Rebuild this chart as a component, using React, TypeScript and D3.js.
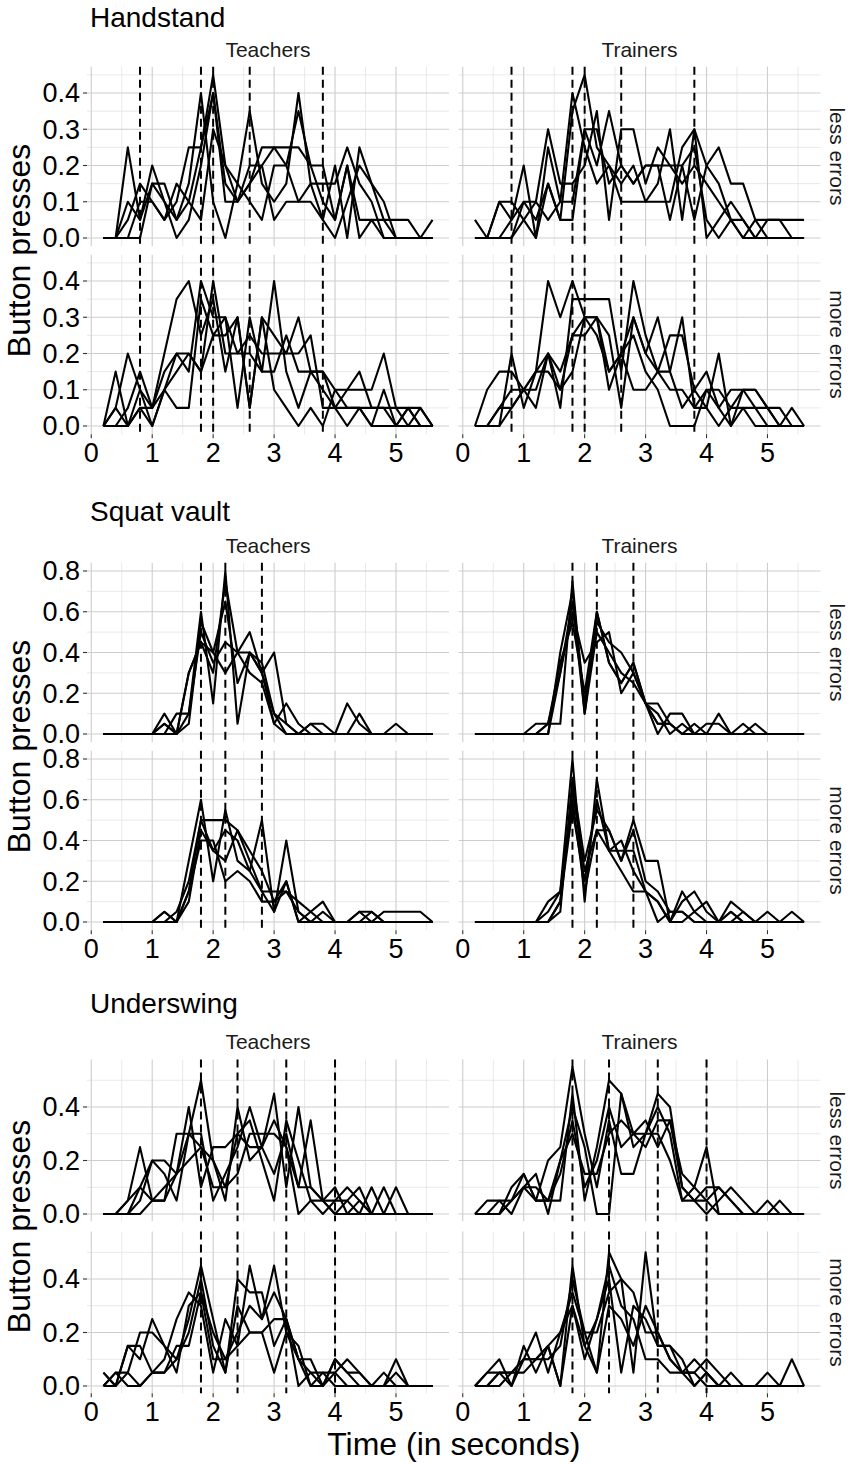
import * as d3 from "d3";

// time bins (seconds)
const times = [0.2, 0.4, 0.6, 0.8, 1.0, 1.2, 1.4, 1.6, 1.8, 2.0, 2.2, 2.4, 2.6, 2.8, 3.0, 3.2, 3.4, 3.6, 3.8, 4.0, 4.2, 4.4, 4.6, 4.8, 5.0, 5.2, 5.4, 5.6];
const xTicks = [0, 1, 2, 3, 4, 5];
const xMinor = [0.5, 1.5, 2.5, 3.5, 4.5, 5.5];
const groups = ["Teachers", "Trainers"];
const errorRows = ["less errors", "more errors"];

// Handstand
const handstandMarks = [0.8, 1.8, 2.0, 2.6, 3.8];
const handstandYTicks = [0, 0.1, 0.2, 0.3, 0.4];
const handstandYMinor = [0.05, 0.15, 0.25, 0.35, 0.45];
const handstandTeachersLess = [
  [0, 0, 0.25, 0.05, 0.2, 0.1, 0.05, 0.15, 0.4, 0.1, 0, 0.15, 0.35, 0.15, 0.1, 0.15, 0.4, 0.15, 0.05, 0.2, 0, 0.25, 0.15, 0.1, 0, 0, 0, 0],
  [0, 0, 0.1, 0.05, 0.15, 0.15, 0.05, 0.1, 0.25, 0.45, 0.2, 0.1, 0.15, 0.25, 0.25, 0.25, 0.25, 0.2, 0.2, 0.05, 0.2, 0.05, 0.05, 0.05, 0.05, 0.05, 0, 0.05],
  [0, 0, 0, 0.1, 0.1, 0.05, 0.1, 0.25, 0.25, 0.4, 0.15, 0.1, 0.2, 0.2, 0.05, 0.1, 0.1, 0.15, 0.15, 0.15, 0.25, 0.15, 0.1, 0, 0, 0, 0, 0],
  [0, 0, 0.05, 0.15, 0.1, 0.05, 0.15, 0.1, 0.05, 0.3, 0.2, 0.15, 0.1, 0.05, 0.2, 0.2, 0.35, 0.2, 0.1, 0.05, 0.2, 0, 0.05, 0, 0, 0, 0, 0],
  [0, 0, 0, 0, 0.15, 0.1, 0, 0.05, 0.2, 0.4, 0.1, 0.1, 0.15, 0.2, 0.25, 0.2, 0.1, 0.1, 0.05, 0, 0.1, 0.2, 0.15, 0.05, 0, 0, 0, 0],
];
const handstandTeachersMore = [
  [0, 0.15, 0, 0.05, 0.05, 0.2, 0.35, 0.4, 0.25, 0.35, 0.15, 0.3, 0.05, 0.3, 0.1, 0.05, 0, 0.05, 0, 0.1, 0.05, 0.05, 0, 0, 0, 0.05, 0, 0],
  [0, 0.05, 0.2, 0.1, 0, 0.1, 0.2, 0.15, 0.4, 0.3, 0.3, 0.05, 0.3, 0.15, 0.4, 0.15, 0.05, 0.15, 0.15, 0.05, 0.1, 0.15, 0.05, 0.05, 0, 0, 0.05, 0],
  [0, 0, 0.05, 0.15, 0.05, 0.15, 0.2, 0.2, 0.15, 0.4, 0.2, 0.2, 0.25, 0.2, 0.2, 0.2, 0.2, 0.25, 0.05, 0.05, 0, 0.05, 0, 0.1, 0, 0.05, 0.05, 0],
  [0, 0, 0, 0.1, 0.05, 0.1, 0.05, 0.05, 0.35, 0.25, 0.25, 0.3, 0.05, 0.3, 0.25, 0.2, 0.3, 0.15, 0.15, 0.1, 0.1, 0.1, 0.1, 0.2, 0.05, 0, 0, 0],
  [0, 0.05, 0, 0.05, 0, 0.1, 0.15, 0.2, 0.15, 0.25, 0.3, 0.2, 0.2, 0.15, 0.15, 0.25, 0.15, 0.15, 0.1, 0.05, 0.05, 0.05, 0.05, 0.05, 0.05, 0.05, 0, 0],
];
const handstandTrainersLess = [
  [0.05, 0, 0.1, 0.1, 0.05, 0, 0.15, 0.05, 0.35, 0.45, 0.25, 0.2, 0.15, 0.2, 0.1, 0.15, 0.3, 0.05, 0.3, 0.2, 0.25, 0.15, 0.15, 0.05, 0.05, 0.05, 0.05, 0.05],
  [0, 0, 0, 0, 0.1, 0.1, 0.3, 0.15, 0.15, 0.2, 0.35, 0.05, 0.3, 0.3, 0.15, 0.25, 0.2, 0.2, 0.25, 0.05, 0, 0.05, 0, 0, 0.05, 0.05, 0, 0],
  [0, 0, 0.1, 0.05, 0.2, 0, 0.25, 0.1, 0.4, 0.25, 0.15, 0.2, 0.1, 0.1, 0.1, 0.1, 0.1, 0.25, 0.3, 0, 0.05, 0.1, 0.05, 0, 0, 0, 0, 0],
  [0, 0, 0, 0.05, 0.1, 0.05, 0.15, 0.05, 0.05, 0.3, 0.2, 0.35, 0.2, 0.15, 0.2, 0.2, 0.2, 0.15, 0.2, 0.15, 0.1, 0.05, 0.05, 0, 0, 0, 0, 0],
  [0, 0, 0, 0, 0.05, 0.1, 0.05, 0.1, 0.1, 0.3, 0.3, 0.15, 0.2, 0.15, 0.2, 0.2, 0.05, 0.2, 0.05, 0.2, 0.15, 0.05, 0, 0.05, 0, 0, 0, 0],
];
const handstandTrainersMore = [
  [0, 0.1, 0.15, 0.15, 0.1, 0.15, 0.4, 0.3, 0.4, 0.3, 0.3, 0.1, 0.2, 0.1, 0.1, 0.15, 0.15, 0.3, 0.05, 0.1, 0.05, 0, 0.05, 0.05, 0, 0, 0.05, 0],
  [0, 0, 0.05, 0.05, 0.1, 0.1, 0.2, 0.05, 0.35, 0.35, 0.35, 0.35, 0.15, 0.4, 0.25, 0.15, 0.25, 0.25, 0.1, 0.05, 0.2, 0, 0.1, 0.1, 0.05, 0.05, 0, 0],
  [0, 0, 0, 0.2, 0.05, 0.15, 0.2, 0.15, 0.25, 0.25, 0.3, 0.25, 0.05, 0.3, 0.2, 0.3, 0.15, 0.05, 0.1, 0.15, 0.05, 0.1, 0.1, 0.05, 0.05, 0, 0, 0],
  [0, 0, 0.05, 0.1, 0.1, 0.05, 0.2, 0.1, 0.15, 0.3, 0.25, 0.15, 0.2, 0.25, 0.15, 0.1, 0, 0, 0, 0.1, 0.1, 0.05, 0.1, 0.1, 0.05, 0, 0, 0],
  [0, 0, 0, 0.05, 0.1, 0.15, 0.15, 0.1, 0.25, 0.3, 0.3, 0.15, 0.2, 0.3, 0.2, 0.15, 0.1, 0.1, 0.05, 0.05, 0, 0.05, 0.05, 0, 0, 0, 0, 0],
];

// Squat vault
const squatMarks = [1.8, 2.2, 2.8];
const squatYTicks = [0, 0.2, 0.4, 0.6, 0.8];
const squatYMinor = [0.1, 0.3, 0.5, 0.7];
const squatTeachersLess = [
  [0, 0, 0, 0, 0, 0.1, 0, 0.1, 0.6, 0.15, 0.8, 0.05, 0.4, 0.35, 0.1, 0.05, 0, 0, 0, 0, 0.15, 0.05, 0, 0, 0, 0, 0, 0],
  [0, 0, 0, 0, 0, 0.05, 0, 0.05, 0.55, 0.4, 0.65, 0.25, 0.4, 0.3, 0.4, 0.05, 0, 0.05, 0.05, 0, 0, 0.1, 0, 0, 0.05, 0, 0, 0],
  [0, 0, 0, 0, 0, 0, 0.1, 0.1, 0.5, 0.35, 0.45, 0.4, 0.3, 0.25, 0.05, 0.15, 0.05, 0, 0, 0, 0, 0, 0, 0, 0, 0, 0, 0],
  [0, 0, 0, 0, 0, 0, 0, 0.3, 0.45, 0.3, 0.75, 0.4, 0.5, 0.3, 0.1, 0, 0, 0.05, 0, 0, 0, 0, 0, 0, 0, 0, 0, 0],
  [0, 0, 0, 0, 0, 0.05, 0, 0.3, 0.45, 0.4, 0.3, 0.4, 0.4, 0.3, 0.05, 0, 0, 0, 0, 0, 0, 0, 0, 0, 0, 0, 0, 0],
];
const squatTeachersMore = [
  [0, 0, 0, 0, 0, 0.05, 0, 0.3, 0.6, 0.2, 0.55, 0.3, 0.25, 0.5, 0.05, 0.4, 0.05, 0, 0, 0, 0, 0.05, 0.05, 0, 0, 0, 0, 0],
  [0, 0, 0, 0, 0, 0, 0, 0.15, 0.5, 0.5, 0.5, 0.45, 0.35, 0.25, 0.1, 0.2, 0, 0.05, 0.1, 0, 0, 0, 0, 0.05, 0.05, 0.05, 0.05, 0],
  [0, 0, 0, 0, 0, 0.05, 0, 0.1, 0.45, 0.35, 0.3, 0.45, 0.3, 0.15, 0.15, 0.15, 0.05, 0, 0.05, 0, 0, 0, 0.05, 0, 0, 0, 0, 0],
  [0, 0, 0, 0, 0, 0, 0, 0.15, 0.4, 0.4, 0.2, 0.25, 0.2, 0.1, 0.1, 0.15, 0.1, 0.05, 0, 0, 0, 0.05, 0, 0, 0, 0, 0, 0],
  [0, 0, 0, 0, 0, 0, 0.05, 0.2, 0.5, 0.35, 0.45, 0.4, 0.25, 0.15, 0.05, 0.2, 0, 0, 0, 0, 0, 0, 0, 0, 0, 0, 0, 0],
];
const squatTrainersLess = [
  [0, 0, 0, 0, 0, 0, 0.05, 0.05, 0.75, 0.1, 0.6, 0.35, 0.25, 0.35, 0.15, 0.05, 0.05, 0, 0.05, 0, 0.1, 0, 0.05, 0, 0, 0, 0, 0],
  [0, 0, 0, 0, 0, 0, 0, 0.4, 0.7, 0.15, 0.55, 0.45, 0.4, 0.3, 0.15, 0, 0.1, 0.1, 0, 0.05, 0.05, 0, 0, 0.05, 0, 0, 0, 0],
  [0, 0, 0, 0, 0, 0, 0, 0.3, 0.6, 0.35, 0.45, 0.5, 0.2, 0.3, 0.15, 0.15, 0.05, 0, 0, 0, 0, 0, 0, 0, 0, 0, 0, 0],
  [0, 0, 0, 0, 0, 0.05, 0.05, 0.35, 0.55, 0.2, 0.6, 0.35, 0.25, 0.35, 0.15, 0.1, 0, 0.05, 0, 0, 0, 0, 0, 0, 0, 0, 0, 0],
  [0, 0, 0, 0, 0, 0, 0.05, 0.3, 0.65, 0.1, 0.5, 0.4, 0.3, 0.25, 0.15, 0.05, 0.05, 0, 0, 0, 0, 0, 0, 0, 0, 0, 0, 0],
];
const squatTrainersMore = [
  [0, 0, 0, 0, 0, 0, 0.1, 0.15, 0.8, 0.1, 0.7, 0.35, 0.4, 0.25, 0.15, 0.1, 0, 0.15, 0.05, 0.1, 0, 0.1, 0.05, 0, 0.05, 0, 0.05, 0],
  [0, 0, 0, 0, 0, 0, 0, 0.05, 0.7, 0.3, 0.55, 0.45, 0.3, 0.5, 0.3, 0.3, 0, 0.1, 0.15, 0.05, 0, 0.05, 0, 0, 0, 0, 0, 0],
  [0, 0, 0, 0, 0, 0, 0.05, 0.15, 0.6, 0.15, 0.45, 0.35, 0.25, 0.15, 0.15, 0, 0.05, 0.05, 0, 0, 0, 0, 0.05, 0, 0, 0, 0, 0],
  [0, 0, 0, 0, 0, 0, 0, 0.1, 0.55, 0.2, 0.6, 0.35, 0.35, 0.35, 0.15, 0.1, 0, 0, 0.05, 0, 0, 0.05, 0, 0, 0, 0, 0, 0],
  [0, 0, 0, 0, 0, 0, 0, 0.1, 0.65, 0.25, 0.45, 0.45, 0.3, 0.45, 0.2, 0.15, 0.05, 0.05, 0, 0, 0, 0, 0, 0, 0, 0, 0, 0],
];

// Underswing
const underswingMarks = [1.8, 2.4, 3.2, 4.0];
const underswingYTicks = [0, 0.2, 0.4];
const underswingYMinor = [0.1, 0.3, 0.5];
const underswingTeachersLess = [
  [0, 0, 0.05, 0.25, 0.05, 0.05, 0.15, 0.4, 0.1, 0.25, 0.25, 0.3, 0.25, 0.25, 0.45, 0.1, 0.4, 0.1, 0.05, 0.1, 0, 0, 0.1, 0, 0, 0, 0, 0],
  [0, 0, 0, 0.1, 0.2, 0.2, 0.15, 0.3, 0.5, 0.2, 0.05, 0.4, 0.2, 0.25, 0.35, 0.25, 0.1, 0.35, 0.05, 0, 0.05, 0.1, 0, 0, 0, 0, 0, 0],
  [0, 0, 0, 0.05, 0.2, 0.15, 0.05, 0.3, 0.25, 0.1, 0.1, 0.3, 0.35, 0.2, 0.05, 0.35, 0.2, 0.05, 0, 0.05, 0.05, 0, 0, 0, 0.1, 0, 0, 0],
  [0, 0, 0.05, 0.1, 0.05, 0.05, 0.3, 0.3, 0.3, 0.05, 0.15, 0.25, 0.4, 0.25, 0.15, 0.3, 0.1, 0.1, 0.05, 0.05, 0.1, 0.05, 0, 0.1, 0, 0, 0, 0],
  [0, 0, 0, 0, 0.05, 0.1, 0.15, 0.2, 0.25, 0.2, 0.1, 0.15, 0.3, 0.3, 0.3, 0.25, 0, 0.05, 0.05, 0, 0, 0.05, 0, 0, 0, 0, 0, 0],
];
const underswingTeachersMore = [
  [0.05, 0, 0.15, 0.15, 0.05, 0.1, 0.25, 0.35, 0.3, 0.05, 0.25, 0.15, 0.45, 0.25, 0.45, 0.2, 0.1, 0.05, 0, 0.1, 0.05, 0, 0, 0, 0.1, 0, 0, 0],
  [0, 0.05, 0.05, 0.2, 0.2, 0.15, 0.1, 0.25, 0.45, 0.25, 0.05, 0.4, 0.35, 0.35, 0.15, 0.25, 0, 0.05, 0.05, 0.05, 0.1, 0.05, 0, 0, 0.05, 0, 0, 0],
  [0, 0, 0.15, 0.1, 0.25, 0.15, 0.05, 0.3, 0.35, 0.1, 0.1, 0.2, 0.3, 0.25, 0.35, 0.25, 0.1, 0.1, 0, 0.1, 0.05, 0.05, 0, 0.05, 0, 0, 0, 0],
  [0.05, 0, 0.05, 0, 0.05, 0.05, 0.1, 0.2, 0.4, 0.15, 0.05, 0.3, 0.2, 0.2, 0.05, 0.2, 0.15, 0, 0.05, 0, 0, 0, 0, 0, 0, 0, 0, 0],
  [0, 0.05, 0, 0, 0.05, 0.05, 0.15, 0.15, 0.35, 0.2, 0.1, 0.15, 0.2, 0.2, 0.25, 0.25, 0.1, 0, 0, 0.05, 0, 0, 0, 0, 0, 0, 0, 0],
];
const underswingTrainersLess = [
  [0, 0, 0.05, 0.05, 0.1, 0.05, 0.2, 0.25, 0.55, 0.3, 0.1, 0.35, 0.15, 0.15, 0.3, 0.45, 0.4, 0.1, 0.05, 0.05, 0.1, 0.05, 0, 0, 0, 0, 0, 0],
  [0, 0, 0, 0.1, 0.15, 0.05, 0.05, 0.05, 0.45, 0.05, 0.25, 0.5, 0.45, 0.3, 0.25, 0.35, 0.35, 0.15, 0.1, 0.25, 0, 0, 0, 0, 0.05, 0, 0, 0],
  [0, 0.05, 0.05, 0, 0.1, 0.15, 0, 0.2, 0.4, 0.25, 0, 0, 0.45, 0.25, 0.3, 0.4, 0.3, 0.05, 0.05, 0.1, 0.1, 0.05, 0, 0, 0, 0.05, 0, 0],
  [0, 0, 0, 0.05, 0.15, 0.05, 0.05, 0.15, 0.35, 0.1, 0.2, 0.4, 0.25, 0.3, 0.35, 0.25, 0.35, 0.1, 0.05, 0, 0.05, 0.1, 0.05, 0, 0, 0, 0, 0],
  [0, 0, 0, 0.05, 0.1, 0.1, 0.05, 0.2, 0.3, 0.15, 0.15, 0.3, 0.35, 0.3, 0.3, 0.3, 0.2, 0.05, 0.1, 0.05, 0, 0, 0, 0, 0, 0, 0, 0],
];
const underswingTrainersMore = [
  [0, 0.05, 0.1, 0, 0.15, 0.05, 0.15, 0, 0.45, 0.15, 0.05, 0.5, 0.4, 0.05, 0.5, 0.15, 0.15, 0.05, 0.1, 0.05, 0, 0, 0, 0, 0.05, 0, 0.1, 0],
  [0, 0.05, 0.05, 0.05, 0.1, 0.2, 0.05, 0.2, 0.35, 0.2, 0.2, 0.35, 0.4, 0.35, 0.2, 0.2, 0.1, 0.05, 0.05, 0.1, 0.05, 0, 0, 0, 0, 0, 0, 0],
  [0, 0, 0.05, 0, 0.1, 0.1, 0.15, 0, 0.3, 0.15, 0.25, 0.4, 0.05, 0.3, 0.25, 0.15, 0.15, 0.1, 0, 0.05, 0, 0.05, 0, 0, 0, 0, 0, 0],
  [0, 0, 0.05, 0.05, 0.05, 0.1, 0.1, 0.15, 0.4, 0.2, 0.05, 0.3, 0.25, 0.15, 0.3, 0.2, 0.1, 0.05, 0.05, 0, 0, 0, 0, 0, 0, 0, 0, 0],
  [0, 0, 0, 0.05, 0.1, 0.1, 0.15, 0.2, 0.3, 0.1, 0.25, 0.45, 0.3, 0.25, 0.1, 0.1, 0.05, 0.05, 0, 0.05, 0, 0, 0, 0, 0, 0, 0, 0],
];

const W = 851;
const H = 1465;
const FONT = "'Liberation Sans', Arial, Helvetica, sans-serif";

// panel columns (pixel extents)
const columns: [number, number][] = [
  [87, 449],
  [458.5, 820.5],
];

interface Section {
  title: string;
  titleY: number;
  stripY: number;
  zeros: number[]; // pixel y of 0.0 in each row
  unit: number; // px per 1.0 button press
  yTicks: number[];
  yMinor: number[];
  marks: number[];
  // [row][col] -> series
  cells: number[][][][];
  xLabelY: number;
}

const sections: Section[] = [
  {
    title: "Handstand",
    titleY: 27,
    stripY: 57,
    zeros: [238, 426],
    unit: 362.5,
    yTicks: handstandYTicks,
    yMinor: handstandYMinor,
    marks: handstandMarks,
    cells: [
      [handstandTeachersLess, handstandTrainersLess],
      [handstandTeachersMore, handstandTrainersMore],
    ],
    xLabelY: 462,
  },
  {
    title: "Squat vault",
    titleY: 521,
    stripY: 553,
    zeros: [734, 922],
    unit: 203.75,
    yTicks: squatYTicks,
    yMinor: squatYMinor,
    marks: squatMarks,
    cells: [
      [squatTeachersLess, squatTrainersLess],
      [squatTeachersMore, squatTrainersMore],
    ],
    xLabelY: 958,
  },
  {
    title: "Underswing",
    titleY: 1013,
    stripY: 1049,
    zeros: [1214, 1386],
    unit: 267.5,
    yTicks: underswingYTicks,
    yMinor: underswingYMinor,
    marks: underswingMarks,
    cells: [
      [underswingTeachersLess, underswingTrainersLess],
      [underswingTeachersMore, underswingTrainersMore],
    ],
    xLabelY: 1421,
  },
];

const [tMin, tMax] = d3.extent(times) as [number, number];
const tPad = (tMax - tMin) * 0.05;
const xScales = columns.map((c) =>
  d3.scaleLinear().domain([tMin - tPad, tMax + tPad]).range(c)
);
const fmtY = d3.format(".1f");

function SectionView({ s }: { s: Section }) {
  const vmax = d3.max(s.cells.flat(2).flat()) as number;
  const lo = -vmax * 0.05;
  const hi = vmax * 1.05;
  const rows = s.zeros.map((z) => {
    const top = z - hi * s.unit;
    const bottom = z - lo * s.unit;
    return { top, bottom, y: d3.scaleLinear().domain([lo, hi]).range([bottom, top]) };
  });
  const lastRow = rows[rows.length - 1];
  const midY = (rows[0].top + lastRow.bottom) / 2;

  return (
    <g>
      <text x={90} y={s.titleY} fontSize={28} fill="#000">
        {s.title}
      </text>
      <text
        transform={`translate(30,${midY}) rotate(-90)`}
        textAnchor="middle"
        fontSize={32}
        fill="#000"
      >
        Button presses
      </text>

      {groups.map((g, ci) => (
        <text
          key={g}
          x={(columns[ci][0] + columns[ci][1]) / 2}
          y={s.stripY}
          textAnchor="middle"
          fontSize={21}
          fill="#1a1a1a"
        >
          {g}
        </text>
      ))}

      {rows.map((r, ri) => (
        <g key={ri}>
          <text
            transform={`translate(830,${(r.top + r.bottom) / 2}) rotate(90)`}
            textAnchor="middle"
            fontSize={21}
            fill="#1a1a1a"
          >
            {errorRows[ri]}
          </text>

          {/* y axis labels and ticks on the left column */}
          {s.yTicks.map((t) => (
            <g key={t}>
              <line x1={columns[0][0] - 4} x2={columns[0][0]} y1={r.y(t)} y2={r.y(t)} stroke="#333" strokeWidth={1.1} />
              <text x={columns[0][0] - 7} y={r.y(t)} dy="0.35em" textAnchor="end" fontSize={27} fill="#000">
                {fmtY(t)}
              </text>
            </g>
          ))}

          {xScales.map((x, ci) => {
            const line = d3
              .line<number>()
              .x((_, i) => x(times[i]))
              .y((v) => r.y(v));
            const [x0, x1] = columns[ci];
            return (
              <g key={ci}>
                {s.yMinor.map((t) => (
                  <line key={"ym" + t} x1={x0} x2={x1} y1={r.y(t)} y2={r.y(t)} stroke="#e3e3e3" strokeWidth={0.8} />
                ))}
                {xMinor.map((t) => (
                  <line key={"xm" + t} x1={x(t)} x2={x(t)} y1={r.top} y2={r.bottom} stroke="#e3e3e3" strokeWidth={0.8} />
                ))}
                {s.yTicks.map((t) => (
                  <line key={"y" + t} x1={x0} x2={x1} y1={r.y(t)} y2={r.y(t)} stroke="#cdcdcd" strokeWidth={1.1} />
                ))}
                {xTicks.map((t) => (
                  <line key={"x" + t} x1={x(t)} x2={x(t)} y1={r.top} y2={r.bottom} stroke="#cdcdcd" strokeWidth={1.1} />
                ))}
                {s.cells[ri][ci].map((series, si) => (
                  <path
                    key={si}
                    d={line(series) ?? ""}
                    fill="none"
                    stroke="#000"
                    strokeWidth={2.1}
                    strokeLinejoin="round"
                  />
                ))}
                {s.marks.map((m) => (
                  <line
                    key={"m" + m}
                    x1={x(m)}
                    x2={x(m)}
                    y1={r.top}
                    y2={r.bottom}
                    stroke="#000"
                    strokeWidth={2}
                    strokeDasharray="8,5"
                  />
                ))}
              </g>
            );
          })}
        </g>
      ))}

      {/* x axis under the bottom row */}
      {xScales.map((x, ci) => (
        <g key={ci}>
          {xTicks.map((t) => (
            <g key={t}>
              <line x1={x(t)} x2={x(t)} y1={lastRow.bottom} y2={lastRow.bottom + 4} stroke="#333" strokeWidth={1.1} />
              <text x={x(t)} y={s.xLabelY} textAnchor="middle" fontSize={27} fill="#000">
                {t}
              </text>
            </g>
          ))}
        </g>
      ))}
    </g>
  );
}

export default function App() {
  return (
    <svg
      width={W}
      height={H}
      viewBox={`0 0 ${W} ${H}`}
      fontFamily={FONT}
      style={{ position: "absolute", left: 0, top: 0, display: "block", background: "#fff" }}
    >
      <rect width={W} height={H} fill="#fff" />
      {sections.map((s) => (
        <SectionView key={s.title} s={s} />
      ))}
      <text
        x={(columns[0][0] + columns[1][1]) / 2}
        y={1455}
        textAnchor="middle"
        fontSize={32}
        fill="#000"
      >
        Time (in seconds)
      </text>
    </svg>
  );
}
